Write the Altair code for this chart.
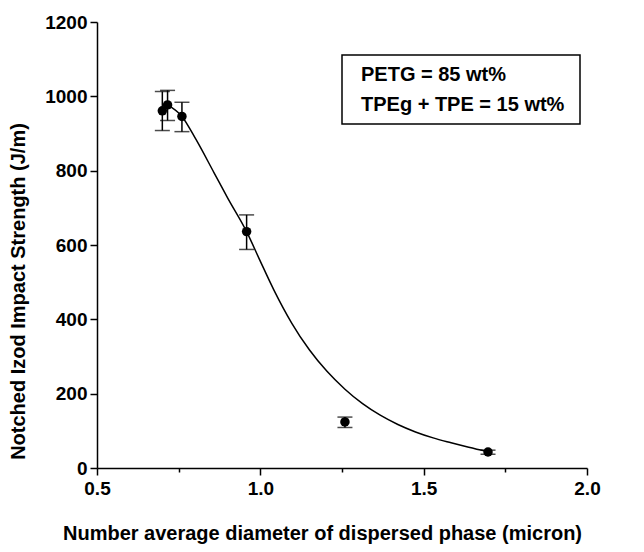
import altair as alt
import pandas as pd

# measured points
diam = [0.70, 0.716, 0.76, 0.958, 1.259, 1.697]
izod = [961, 977, 946, 636, 124, 43]
err_lo = [908, 935, 905, 588, 109, 37]
err_hi = [1013, 1016, 984, 681, 137, 48]

# fitted curve
curve_x = [0.716, 0.760, 0.803, 0.858, 0.901, 0.958, 0.998, 1.042, 1.096, 1.150,
           1.204, 1.259, 1.313, 1.367, 1.421, 1.475, 1.529, 1.584, 1.638, 1.697]
curve_y = [977, 946, 884, 795, 725, 636, 560, 478, 390, 318,
           260, 212, 173, 142, 117, 97, 81, 68, 56, 44]

legend_line1 = ["PETG = 85 wt%"]
legend_line2 = ["TPEg + TPE = 15 wt%"]

x_ticks = [0.5, 0.75, 1.0, 1.25, 1.5, 1.75, 2.0]
y_ticks = list(range(0, 1201, 100))

pts = pd.DataFrame({"d": diam, "s": izod, "lo": err_lo, "hi": err_hi})
cur = pd.DataFrame({"d": curve_x, "s": curve_y})

FONT = "Liberation Sans"

xscale = alt.Scale(domain=[0.5, 2.0], nice=False, zero=False)
yscale = alt.Scale(domain=[0, 1200], nice=False)

xaxis = alt.Axis(
    title="Number average diameter of dispersed phase (micron)",
    values=x_ticks,
    labelExpr="(round(datum.value*100) % 50 == 0) ? format(datum.value, '.1f') : ''",
    tickSize={"condition": {"test": "round(datum.value*100) % 50 == 0", "value": 7}, "value": 4},
    grid=False, labelPadding=4, labelFlush=False,
    titleX=225, titleY=71, titleAlign="center", titleBaseline="alphabetic", titleFontSize=20,
)
yaxis = alt.Axis(
    title="Notched Izod Impact Strength (J/m)",
    values=y_ticks,
    labelExpr="(datum.value % 200 == 0) ? format(datum.value, 'd') : ''",
    tickSize={"condition": {"test": "datum.value % 200 == 0", "value": 7}, "value": 4},
    grid=False, labelPadding=3, labelFlush=False,
    titleX=-79, titleY=269, titleAlign="center", titleBaseline="middle", titleFontSize=20,
)

line = alt.Chart(cur).mark_line(color="black", strokeWidth=1.5, interpolate="monotone").encode(
    x=alt.X("d:Q", scale=xscale, axis=xaxis),
    y=alt.Y("s:Q", scale=yscale, axis=yaxis),
)
bars = alt.Chart(pts).mark_rule(color="black", strokeWidth=1.5).encode(
    x="d:Q", y="lo:Q", y2="hi:Q"
)
cap_lo = alt.Chart(pts).mark_tick(color="black", orient="horizontal", size=15, thickness=1.5).encode(
    x="d:Q", y="lo:Q"
)
cap_hi = alt.Chart(pts).mark_tick(color="black", orient="horizontal", size=15, thickness=1.5).encode(
    x="d:Q", y="hi:Q"
)
dots = alt.Chart(pts).mark_point(filled=True, color="black", size=90, opacity=1, shape="circle").encode(
    x="d:Q", y="s:Q"
)

box = alt.Chart(pd.DataFrame({"a": [0]})).mark_rect(
    fill="white", stroke="black", strokeWidth=1.5
).encode(x=alt.value(245), x2=alt.value(483), y=alt.value(33), y2=alt.value(102))

txt1 = alt.Chart(pd.DataFrame({"t": legend_line1})).mark_text(
    align="left", baseline="alphabetic", font=FONT, fontSize=20, fontWeight="bold", color="black"
).encode(x=alt.value(264), y=alt.value(59), text="t:N")
txt2 = alt.Chart(pd.DataFrame({"t": legend_line2})).mark_text(
    align="left", baseline="alphabetic", font=FONT, fontSize=20, fontWeight="bold", color="black"
).encode(x=alt.value(264), y=alt.value(89), text="t:N")

chart = alt.layer(line, bars, cap_lo, cap_hi, dots, box, txt1, txt2).properties(
    width=490, height=446,
    autosize=alt.AutoSizeParams(type="none"),
    padding={"left": 89, "top": 14, "right": 49, "bottom": 76},
    background="white",
).configure_view(
    stroke="transparent"
).configure_axis(
    domainColor="black", domainWidth=1.5, tickColor="black", tickWidth=1.5,
    labelFont=FONT, labelFontSize=19, labelFontWeight="bold", labelColor="black",
    titleFont=FONT, titleFontWeight="bold", titleColor="black",
)

chart.save("out.html", embed_options={"renderer": "svg", "actions": False})
